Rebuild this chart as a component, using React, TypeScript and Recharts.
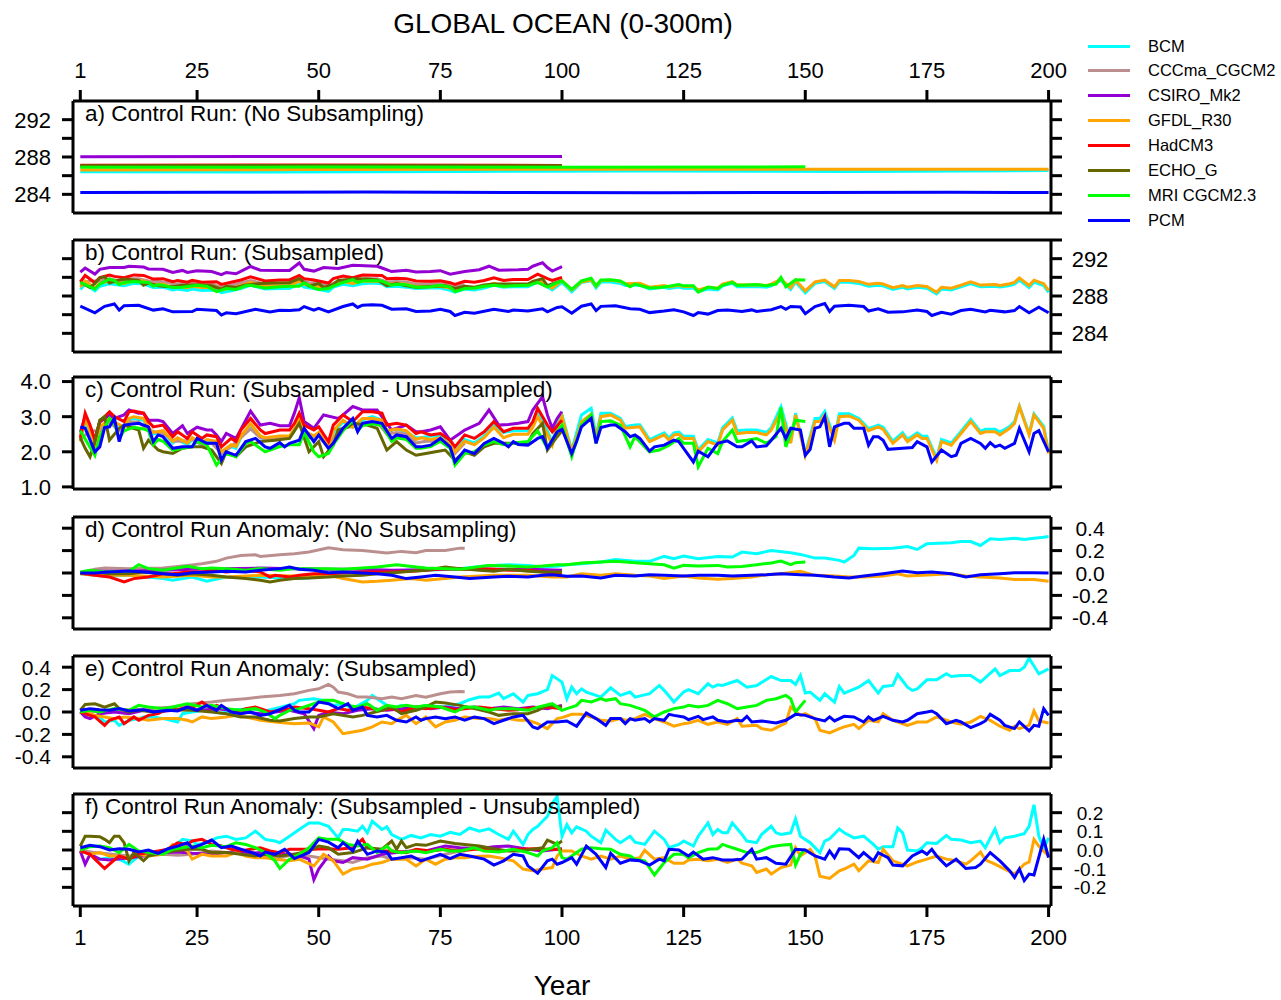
import React from 'react';
import { LineChart, Line, XAxis, YAxis } from 'recharts';

type Pt = [number, number];

const models = ['BCM', 'CCCma_CGCM2', 'CSIRO_Mk2', 'GFDL_R30', 'HadCM3', 'ECHO_G', 'MRI CGCM2.3', 'PCM'];
const colors = ['#00FFFF', '#BC8F8F', '#9400D3', '#FFA500', '#FF0000', '#666600', '#00FF00', '#0000FF'];
const yearTicks = [1, 25, 50, 75, 100, 125, 150, 175, 200];

// a) control run, no subsampling
const aBCM: Pt[] = [[1, 286.42], [40, 286.4], [80, 286.45], [120, 286.5], [160, 286.45], [200, 286.55]];
const aCCCma: Pt[] = [[1, 287.0], [40, 287.0], [80, 287.0]];
const aCSIRO: Pt[] = [[1, 288.02], [50, 288.05], [100, 288.05]];
const aGFDL: Pt[] = [[1, 286.62], [50, 286.65], [100, 286.7], [150, 286.7], [200, 286.7]];
const aHad: Pt[] = [[1, 287.12], [50, 287.15], [100, 287.1]];
const aECHO: Pt[] = [[1, 287.05], [50, 287.1], [100, 287.05]];
const aMRI: Pt[] = [[1, 286.9], [50, 286.92], [100, 286.9], [150, 286.95]];
const aPCM: Pt[] = [[1, 284.2], [30, 284.22], [60, 284.25], [90, 284.2], [120, 284.18], [150, 284.2], [180, 284.22], [200, 284.2]];

// b) control run, subsampled
const bBCM: Pt[] = [[1,288.7],[2,289.25],[4,288.55],[5,289.05],[7,289.3],[10,289.1],[12,289.35],[14,289.3],[16,288.9],[18,288.95],[20,288.65],[21,288.75],[23,288.6],[24,288.75],[26,288.6],[29,288.65],[30,288.35],[32,288.55],[34,288.8],[36,289.15],[39,288.75],[42,288.8],[44,288.8],[46,289.3],[47,288.95],[49,288.8],[52,288.5],[53,288.95],[55,289.25],[57,289.1],[59,289.3],[61,289.4],[63,289.3],[64,289.0],[66,289.05],[68,288.95],[70,288.8],[73,288.85],[75,288.85],[77,288.6],[78,288.4],[80,288.75],[82,288.65],[84,288.85],[86,289.15],[88,288.95],[90,289.0],[93,289.0],[95,289.5],[97,289.0],[98,288.65],[100,289.45],[102,288.45],[104,289.45],[106,289.64],[107,288.85],[108,289.5],[110,289.5],[112,289.35],[113,289.12],[116,289.17],[118,288.75],[121,288.94],[122,288.8],[124,288.96],[125,288.84],[127,288.84],[128,288.46],[130,288.75],[132,288.65],[133,289.08],[135,289.36],[136,289.0],[140,289.02],[142,288.95],[143,289.08],[145,289.68],[147,288.7],[148,289.5],[150,288.35],[152,289.35],[154,289.55],[156,288.8],[157,289.48],[159,289.48],[161,289.35],[163,289.06],[165,289.16],[166,289.1],[168,288.7],[170,288.94],[171,288.75],[173,288.94],[175,288.84],[177,288.22],[178,288.75],[180,288.65],[182,288.98],[184,289.32],[186,288.98],[189,289.04],[190,288.96],[192,289.12],[193,289.26],[194,289.7],[196,288.92],[197,289.48],[199,289.12],[200,288.4]];
const bCCCma: Pt[] = [[1,289.35],[3,289.6],[5,289.6],[7,289.85],[9,289.6],[11,289.85],[13,289.85],[15,289.6],[17,289.55],[19,289.45],[20,289.3],[22,289.3],[24,289.35],[26,289.2],[28,289.25],[30,288.95],[32,289.15],[34,289.4],[36,289.65],[38,289.4],[40,289.35],[42,289.4],[44,289.4],[46,289.85],[48,289.4],[50,289.45],[52,289.1],[54,289.6],[56,289.7],[58,289.75],[60,289.85],[62,289.85],[64,289.5],[66,289.55],[68,289.5],[70,289.25],[72,289.3],[74,289.3],[76,289.3],[78,288.95],[80,289.25]];
const bCSIRO: Pt[] = [[1,290.55],[2,291.0],[4,290.35],[5,290.85],[7,291.05],[10,291.05],[11,291.19],[14,291.1],[15,290.9],[18,290.86],[20,290.52],[22,290.74],[23,290.52],[25,290.7],[28,290.62],[30,290.29],[31,290.52],[33,290.38],[35,290.9],[36,291.16],[38,290.76],[42,290.74],[44,290.74],[46,291.54],[47,290.86],[49,290.67],[51,291.05],[54,290.95],[57,291.29],[62,291.19],[63,291.0],[65,290.62],[68,290.76],[70,290.57],[73,290.62],[75,290.71],[77,290.33],[80,290.62],[83,290.81],[85,291.19],[87,290.76],[91,290.81],[93,290.86],[94,291.19],[96,291.57],[97,291.05],[98,290.67],[100,291.14]];
const bGFDL: Pt[] = [[1,288.95],[2,289.6],[4,288.85],[5,289.35],[7,289.6],[10,289.35],[12,289.65],[14,289.6],[16,289.2],[18,289.25],[20,288.95],[21,289.05],[23,288.9],[24,289.05],[26,288.9],[29,288.95],[30,288.65],[32,288.85],[34,289.1],[36,289.45],[39,289.05],[42,289.1],[44,289.1],[46,289.6],[47,289.25],[49,289.1],[52,288.8],[53,289.25],[55,289.55],[57,289.35],[59,289.6],[63,289.55],[64,289.25],[66,289.3],[68,289.25],[70,289.0],[73,289.0],[75,289.05],[77,288.85],[78,288.65],[80,288.95],[82,288.85],[84,289.05],[86,289.35],[88,289.05],[90,289.15],[93,289.15],[95,289.65],[97,289.15],[98,288.84],[100,289.65],[102,288.65],[104,289.51],[106,289.72],[107,289.03],[108,289.65],[110,289.7],[112,289.55],[113,289.32],[116,289.36],[118,288.94],[121,289.13],[122,288.98],[124,289.15],[125,289.03],[127,289.03],[128,288.65],[130,288.94],[132,288.84],[133,289.27],[135,289.55],[136,289.17],[140,289.2],[142,289.13],[143,289.27],[145,289.79],[147,288.89],[148,289.7],[150,288.55],[152,289.51],[154,289.7],[156,288.98],[157,289.65],[159,289.67],[161,289.55],[163,289.25],[165,289.36],[166,289.29],[168,288.89],[170,289.13],[171,288.94],[173,289.13],[175,289.03],[177,288.41],[178,288.94],[180,288.84],[182,289.17],[184,289.51],[186,289.17],[189,289.22],[190,289.13],[192,289.32],[193,289.46],[194,289.94],[196,289.13],[197,289.7],[199,289.32],[200,288.6]];
const bHad: Pt[] = [[1,289.5],[2,290.2],[4,289.43],[5,289.96],[7,290.24],[8,290.1],[10,289.96],[12,290.26],[14,290.2],[16,289.81],[18,289.86],[20,289.53],[21,289.67],[23,289.48],[24,289.67],[26,289.48],[29,289.53],[30,289.24],[32,289.48],[34,289.72],[36,290.05],[39,289.62],[42,289.72],[44,289.72],[46,290.2],[47,289.86],[49,289.72],[52,289.39],[53,289.86],[55,290.15],[57,289.96],[59,290.24],[63,290.2],[64,289.86],[66,289.91],[68,289.86],[70,289.62],[73,289.58],[75,289.62],[77,289.43],[78,289.24],[80,289.58],[82,289.48],[84,289.67],[86,289.96],[88,289.67],[90,289.77],[93,289.77],[95,290.34],[97,289.86],[98,289.67],[100,290.0]];
const bECHO: Pt[] = [[1,289.45],[3,288.91],[4,289.34],[5,289.95],[6,290.05],[7,289.38],[9,289.72],[10,289.81],[13,289.67],[14,289.15],[15,289.38],[17,289.1],[18,289.05],[20,289.0],[22,289.15],[24,289.19],[26,289.19],[28,289.1],[30,288.72],[31,289.05],[33,288.91],[35,289.19],[37,289.29],[38,289.34],[41,289.38],[44,289.43],[46,289.86],[48,289.05],[50,289.34],[51,288.91],[53,289.24],[54,289.67],[56,289.76],[57,289.86],[60,289.81],[62,289.72],[64,289.1],[66,289.34],[68,289.1],[70,288.95],[72,289.0],[74,289.05],[76,289.1],[78,288.81],[80,289.05],[82,288.95],[84,289.19],[86,289.29],[89,289.29],[93,289.29],[94,289.57],[96,289.86],[97,289.1],[99,289.48],[100,289.65]];
const bMRI: Pt[] = [[1,289.45],[4,288.75],[5,289.28],[7,289.8],[8,289.66],[9,289.23],[10,289.45],[12,289.55],[15,289.45],[16,289.05],[17,289.2],[18,289.15],[20,288.9],[22,288.95],[25,289.15],[27,289.05],[29,288.47],[31,288.8],[33,288.71],[35,289.09],[36,289.14],[39,288.85],[42,289.0],[44,289.05],[46,289.05],[47,289.4],[49,288.85],[50,288.71],[52,288.8],[53,289.05],[55,289.45],[57,289.75],[58,289.45],[59,289.6],[61,289.65],[63,289.6],[65,289.15],[66,289.25],[68,289.2],[70,288.95],[73,289.0],[75,289.15],[77,288.95],[78,288.47],[80,288.8],[82,288.85],[84,289.05],[86,289.14],[88,289.05],[90,289.1],[93,289.14],[95,289.45],[97,288.95],[99,289.42],[100,289.61],[102,288.71],[104,289.61],[106,289.9],[107,289.09],[108,289.71],[110,289.73],[112,289.61],[114,288.99],[115,289.28],[118,288.85],[120,288.9],[122,289.04],[124,289.23],[125,289.09],[127,289.09],[128,288.42],[130,288.95],[132,288.8],[133,289.14],[135,289.47],[136,289.14],[138,289.18],[140,289.23],[142,289.09],[144,289.28],[145,290.0],[146,288.99],[148,289.75],[150,289.71]];
const bPCM: Pt[] = [[1,286.91],[4,286.2],[6,286.89],[8,287.15],[9,286.49],[10,286.96],[13,287.01],[16,286.49],[18,286.63],[20,286.3],[24,286.34],[25,286.58],[29,286.44],[30,285.96],[31,286.2],[33,286.1],[37,286.58],[40,286.3],[42,286.46],[44,286.44],[46,286.53],[47,286.87],[49,286.49],[50,286.68],[52,286.3],[55,286.87],[57,287.15],[58,286.77],[59,287.01],[61,287.06],[63,287.01],[65,286.58],[68,286.63],[70,286.34],[73,286.39],[75,286.58],[77,286.34],[78,285.91],[80,286.25],[82,286.15],[86,286.58],[89,286.34],[90,286.49],[93,286.39],[96,286.63],[97,286.3],[99,286.77],[100,286.84],[102,286.15],[104,286.91],[106,287.15],[107,286.44],[108,286.89],[111,286.96],[114,286.63],[116,286.58],[118,286.22],[121,286.39],[123,286.53],[125,286.3],[127,285.91],[128,286.22],[130,286.06],[132,286.44],[134,286.51],[137,286.34],[139,286.51],[140,286.34],[143,286.53],[145,286.87],[146,286.58],[147,286.87],[149,286.82],[150,286.1],[152,286.87],[154,287.2],[155,286.34],[156,286.91],[159,287.01],[162,286.87],[163,286.39],[165,286.63],[167,286.27],[170,286.3],[173,286.49],[175,286.34],[176,285.91],[178,286.25],[180,286.06],[182,286.44],[184,286.58],[187,286.3],[188,286.46],[191,286.3],[193,286.44],[194,286.87],[196,286.2],[198,286.8],[200,286.2]];

// c) subsampled - unsubsampled
const cBCM: Pt[] = [[1,2.3],[2,2.85],[3,2.55],[4,2.15],[5,2.65],[7,2.9],[8,2.8],[10,2.7],[11,2.9],[12,2.95],[14,2.9],[15,2.65],[16,2.5],[18,2.55],[20,2.25],[21,2.35],[23,2.2],[24,2.35],[26,2.2],[27,2.3],[29,2.25],[30,1.95],[32,2.15],[33,2.1],[34,2.4],[36,2.75],[38,2.4],[39,2.35],[42,2.4],[44,2.4],[45,2.6],[46,2.9],[47,2.55],[49,2.4],[50,2.5],[52,2.1],[53,2.55],[55,2.85],[57,2.7],[59,2.9],[61,3.0],[63,2.9],[64,2.6],[66,2.65],[68,2.55],[70,2.4],[71,2.4],[73,2.45],[75,2.45],[77,2.2],[78,2.0],[80,2.35],[82,2.25],[84,2.45],[86,2.75],[88,2.55],[90,2.6],[93,2.6],[94,2.8],[95,3.1],[97,2.6],[98,2.25],[99,2.78],[100,3.05],[102,2.05],[104,3.05],[106,3.24],[107,2.45],[108,3.1],[110,3.1],[112,2.95],[113,2.72],[115,2.76],[116,2.77],[118,2.35],[121,2.54],[122,2.4],[123,2.54],[124,2.56],[125,2.44],[127,2.44],[128,2.06],[130,2.35],[132,2.25],[133,2.68],[135,2.96],[136,2.6],[138,2.62],[140,2.62],[142,2.55],[143,2.68],[145,3.28],[147,2.3],[148,3.1],[150,1.95],[152,2.95],[153,2.95],[154,3.15],[156,2.4],[157,3.08],[159,3.08],[161,2.95],[163,2.66],[165,2.76],[166,2.7],[168,2.3],[170,2.54],[171,2.35],[173,2.54],[174,2.44],[175,2.44],[177,1.82],[178,2.35],[180,2.25],[182,2.58],[184,2.92],[186,2.58],[187,2.64],[189,2.64],[190,2.56],[192,2.72],[193,2.86],[194,3.3],[196,2.52],[197,3.08],[199,2.72],[200,2.0]];
const cCCCma: Pt[] = [[1,2.35],[3,2.6],[5,2.6],[7,2.85],[9,2.6],[11,2.85],[13,2.85],[15,2.6],[17,2.55],[19,2.45],[20,2.3],[22,2.3],[24,2.35],[26,2.2],[28,2.25],[30,1.95],[32,2.15],[34,2.4],[36,2.65],[38,2.4],[40,2.35],[42,2.4],[44,2.4],[46,2.85],[48,2.4],[50,2.45],[52,2.1],[54,2.6],[56,2.7],[58,2.75],[60,2.85],[62,2.85],[64,2.5],[66,2.55],[68,2.5],[70,2.25],[72,2.3],[74,2.3],[76,2.3],[78,1.95],[80,2.25]];
const cCSIRO: Pt[] = [[1,2.55],[2,3.0],[3,2.7],[4,2.35],[5,2.85],[7,3.05],[8,2.95],[10,3.05],[11,3.19],[13,3.1],[14,3.1],[15,2.9],[17,2.9],[18,2.86],[20,2.52],[22,2.74],[23,2.52],[25,2.7],[27,2.62],[28,2.62],[29,2.48],[30,2.29],[31,2.52],[33,2.38],[35,2.9],[36,3.16],[38,2.76],[40,2.81],[42,2.74],[44,2.74],[45,3.1],[46,3.54],[47,2.86],[49,2.67],[51,3.05],[54,2.95],[55,3.05],[57,3.29],[59,3.19],[61,3.19],[62,3.19],[63,3.0],[65,2.62],[66,2.67],[68,2.76],[70,2.57],[71,2.57],[73,2.62],[75,2.71],[77,2.33],[79,2.52],[80,2.62],[83,2.81],[85,3.19],[87,2.76],[89,2.78],[91,2.81],[93,2.86],[94,3.19],[96,3.57],[97,3.05],[98,2.67],[99,2.95],[100,3.14]];
const cGFDL: Pt[] = [[1,2.3],[2,2.95],[3,2.6],[4,2.2],[5,2.7],[7,2.95],[8,2.85],[10,2.7],[11,2.95],[12,3.0],[14,2.95],[15,2.7],[16,2.55],[18,2.6],[20,2.3],[21,2.4],[23,2.25],[24,2.4],[26,2.25],[27,2.35],[29,2.3],[30,2.0],[32,2.2],[33,2.15],[34,2.45],[36,2.8],[38,2.45],[39,2.4],[42,2.45],[44,2.45],[45,2.65],[46,2.95],[47,2.6],[49,2.45],[50,2.55],[52,2.15],[53,2.6],[55,2.9],[57,2.7],[59,2.95],[61,2.95],[63,2.9],[64,2.6],[66,2.65],[68,2.6],[70,2.35],[71,2.4],[73,2.35],[75,2.4],[77,2.2],[78,2.0],[80,2.3],[82,2.2],[84,2.4],[86,2.7],[88,2.4],[90,2.5],[93,2.5],[94,2.7],[95,3.0],[97,2.5],[98,2.19],[99,2.71],[100,3.0],[102,2.0],[104,2.86],[106,3.07],[107,2.38],[108,3.0],[110,3.05],[112,2.9],[113,2.67],[115,2.7],[116,2.71],[118,2.29],[121,2.48],[122,2.33],[123,2.48],[124,2.5],[125,2.38],[127,2.38],[128,2.0],[130,2.29],[132,2.19],[133,2.62],[135,2.9],[136,2.52],[138,2.55],[140,2.55],[142,2.48],[143,2.62],[145,3.14],[147,2.24],[148,3.05],[150,1.9],[152,2.86],[153,2.86],[154,3.05],[156,2.33],[157,3.0],[159,3.02],[161,2.9],[163,2.6],[165,2.71],[166,2.64],[168,2.24],[170,2.48],[171,2.29],[173,2.48],[174,2.38],[175,2.38],[177,1.76],[178,2.29],[180,2.19],[182,2.52],[184,2.86],[186,2.52],[187,2.57],[189,2.57],[190,2.48],[192,2.67],[193,2.81],[194,3.29],[196,2.48],[197,3.05],[199,2.67],[200,1.95]];
const cHad: Pt[] = [[1,2.4],[2,3.1],[3,2.76],[4,2.33],[5,2.86],[7,3.14],[8,3.0],[10,2.86],[11,3.14],[12,3.16],[14,3.1],[15,2.86],[16,2.71],[18,2.76],[20,2.43],[21,2.57],[23,2.38],[24,2.57],[26,2.38],[27,2.48],[29,2.43],[30,2.14],[32,2.38],[33,2.29],[34,2.62],[36,2.95],[38,2.62],[39,2.52],[42,2.62],[44,2.62],[45,2.81],[46,3.1],[47,2.76],[49,2.62],[50,2.71],[52,2.29],[53,2.76],[55,3.05],[57,2.86],[59,3.14],[61,3.14],[63,3.1],[64,2.76],[66,2.81],[68,2.76],[70,2.52],[71,2.57],[73,2.48],[75,2.52],[77,2.33],[78,2.14],[80,2.48],[82,2.38],[84,2.57],[86,2.86],[88,2.57],[90,2.67],[93,2.67],[94,2.86],[95,3.24],[97,2.76],[98,2.57],[100,2.9]];
const cECHO: Pt[] = [[1,2.4],[2,2.1],[3,1.86],[4,2.29],[5,2.9],[6,3.0],[7,2.33],[9,2.67],[10,2.76],[13,2.62],[14,2.1],[15,2.33],[17,2.05],[18,2.0],[20,1.95],[22,2.1],[24,2.14],[26,2.14],[28,2.05],[30,1.67],[31,2.0],[33,1.86],[35,2.14],[37,2.24],[38,2.29],[41,2.33],[44,2.38],[46,2.81],[48,2.0],[50,2.29],[51,1.86],[53,2.19],[54,2.62],[56,2.71],[57,2.81],[60,2.76],[62,2.67],[64,2.05],[66,2.29],[68,2.05],[70,1.9],[72,1.95],[74,2.0],[76,2.05],[78,1.76],[80,2.0],[82,1.9],[84,2.14],[86,2.24],[89,2.24],[93,2.24],[94,2.52],[96,2.81],[97,2.05],[99,2.43],[100,2.6]];
const cMRI: Pt[] = [[1,2.6],[4,1.9],[5,2.43],[7,2.95],[8,2.81],[9,2.38],[10,2.6],[12,2.7],[14,2.65],[15,2.6],[16,2.2],[17,2.35],[18,2.3],[20,2.05],[22,2.1],[24,2.15],[25,2.3],[27,2.2],[29,1.62],[31,1.95],[33,1.86],[35,2.24],[36,2.29],[39,2.0],[40,2.05],[42,2.15],[44,2.2],[46,2.2],[47,2.55],[49,2.0],[50,1.86],[52,1.95],[53,2.2],[55,2.6],[57,2.9],[58,2.6],[59,2.75],[61,2.8],[63,2.75],[65,2.3],[66,2.4],[68,2.35],[70,2.1],[71,2.1],[73,2.15],[75,2.3],[77,2.1],[78,1.62],[80,1.95],[82,2.0],[84,2.2],[86,2.29],[88,2.2],[90,2.25],[93,2.29],[95,2.6],[97,2.1],[99,2.57],[100,2.76],[102,1.86],[104,2.76],[106,3.05],[107,2.24],[108,2.86],[110,2.88],[112,2.76],[114,2.14],[115,2.43],[118,2.0],[120,2.05],[122,2.19],[124,2.38],[125,2.24],[127,2.24],[128,1.57],[130,2.1],[132,1.95],[133,2.29],[135,2.62],[136,2.29],[138,2.33],[140,2.38],[142,2.24],[144,2.43],[145,3.26],[146,2.14],[148,2.9],[150,2.86]];
const cPCM: Pt[] = [[1,2.71],[2,2.67],[4,2.0],[5,2.14],[6,2.69],[7,2.71],[8,2.95],[9,2.29],[10,2.76],[13,2.81],[15,2.71],[16,2.29],[17,2.48],[18,2.43],[20,2.1],[22,2.14],[24,2.14],[25,2.38],[27,2.24],[29,2.24],[30,1.76],[31,2.0],[33,1.9],[35,2.29],[37,2.38],[39,2.14],[40,2.1],[42,2.26],[43,2.14],[44,2.24],[46,2.33],[47,2.67],[49,2.29],[50,2.48],[52,2.1],[53,2.24],[55,2.67],[57,2.95],[58,2.57],[59,2.81],[61,2.86],[63,2.81],[65,2.38],[66,2.48],[68,2.43],[70,2.14],[71,2.14],[73,2.19],[75,2.38],[77,2.14],[78,1.71],[80,2.05],[82,1.95],[84,2.24],[86,2.38],[88,2.24],[89,2.14],[90,2.29],[91,2.21],[93,2.19],[95,2.38],[96,2.43],[97,2.1],[99,2.57],[100,2.64],[102,1.95],[103,2.29],[104,2.71],[106,2.95],[107,2.24],[108,2.69],[110,2.76],[111,2.76],[113,2.57],[114,2.43],[115,2.48],[116,2.38],[118,2.02],[119,2.14],[121,2.19],[123,2.33],[124,2.29],[125,2.1],[127,1.71],[128,2.02],[130,1.86],[132,2.24],[134,2.31],[136,2.14],[137,2.14],[139,2.31],[140,2.14],[142,2.17],[143,2.33],[145,2.67],[146,2.38],[147,2.67],[149,2.62],[150,1.9],[151,2.07],[152,2.67],[153,2.71],[154,3.0],[155,2.14],[156,2.71],[158,2.81],[159,2.81],[160,2.67],[162,2.67],[163,2.19],[164,2.43],[165,2.43],[166,2.33],[167,2.07],[170,2.1],[172,2.12],[173,2.29],[175,2.14],[176,1.71],[178,2.05],[180,1.86],[181,1.9],[182,2.24],[184,2.38],[186,2.24],[187,2.1],[188,2.26],[189,2.14],[190,2.19],[191,2.1],[193,2.24],[194,2.67],[196,2.0],[197,2.52],[198,2.6],[200,2.0]];

// d) anomaly, no subsampling
const dBCM: Pt[] = [[1,-0.006],[4,-0.021],[6,-0.03],[11,-0.021],[18,-0.05],[20,-0.065],[24,-0.036],[27,-0.074],[31,-0.036],[38,-0.036],[45,-0.05],[48,-0.044],[52,-0.006],[59,0.009],[65,-0.006],[68,0.024],[72,0.024],[79,0.039],[84,0.062],[89,0.074],[93,0.068],[96,0.053],[99,0.06],[101,0.074],[104,0.083],[108,0.098],[111,0.121],[115,0.104],[118,0.104],[121,0.148],[123,0.127],[125,0.151],[128,0.127],[132,0.148],[135,0.142],[137,0.187],[140,0.172],[143,0.201],[147,0.181],[149,0.166],[152,0.133],[154,0.133],[157,0.113],[158,0.098],[160,0.157],[161,0.222],[164,0.216],[168,0.222],[171,0.237],[173,0.21],[175,0.261],[180,0.27],[182,0.281],[184,0.281],[186,0.246],[188,0.305],[190,0.299],[193,0.311],[195,0.299],[197,0.311],[199,0.32],[200,0.326]];
const dCCCma: Pt[] = [[1,0],[4,0.033],[6,0.044],[11,0.039],[18,0.044],[23,0.068],[26,0.083],[29,0.104],[31,0.133],[34,0.157],[37,0.163],[38,0.148],[42,0.163],[45,0.172],[48,0.187],[52,0.225],[55,0.207],[59,0.201],[62,0.187],[64,0.178],[67,0.193],[70,0.181],[72,0.201],[76,0.201],[79,0.222],[80,0.22]];
const dCSIRO: Pt[] = [[1,0],[4,0.015],[11,0.015],[18,0.024],[24,0.033],[31,0.039],[38,0.044],[45,0.039],[52,0.033],[59,0.033],[65,0.024],[72,0.03],[79,0.039],[86,0.033],[93,0.033],[100,0.024]];
const dGFDL: Pt[] = [[1,-0.006],[4,-0.021],[11,-0.021],[18,-0.036],[24,-0.021],[28,-0.036],[31,-0.036],[38,-0.021],[45,-0.027],[52,-0.021],[55,-0.05],[59,-0.08],[62,-0.074],[65,-0.065],[69,-0.05],[72,-0.065],[76,-0.05],[79,-0.036],[86,-0.021],[93,-0.021],[98,-0.036],[101,-0.036],[104,-0.006],[108,-0.021],[111,-0.006],[115,-0.021],[118,-0.027],[121,-0.05],[125,-0.027],[128,-0.044],[132,-0.056],[135,-0.05],[139,-0.036],[142,-0.015],[145,-0.006],[149,0.015],[152,-0.021],[156,-0.027],[159,-0.036],[162,-0.036],[166,-0.027],[169,-0.006],[171,-0.027],[176,-0.015],[180,-0.006],[183,-0.027],[186,-0.036],[190,-0.044],[193,-0.059],[197,-0.059],[200,-0.074]];
const dHad: Pt[] = [[1,0],[4,-0.021],[7,-0.036],[10,-0.08],[12,-0.05],[15,-0.036],[18,-0.006],[20,-0.006],[23,0.009],[26,0.009],[28,0.024],[31,0.009],[35,0.024],[38,0.009],[40,-0.036],[41,-0.021],[44,-0.036],[46,-0.021],[49,-0.006],[52,-0.006],[56,0.003],[59,0.009],[63,0.009],[65,0.009],[69,0.015],[72,0.024],[76,0.039],[79,0.033],[83,0.039],[86,0.033],[89,0.024],[93,0.024],[96,0.009],[100,-0.006]];
const dECHO: Pt[] = [[1,0],[4,0.009],[7,-0.006],[11,-0.006],[14,0.009],[18,-0.006],[21,-0.021],[24,-0.006],[28,-0.021],[31,-0.036],[35,-0.05],[38,-0.065],[40,-0.08],[42,-0.065],[45,-0.05],[48,-0.044],[52,-0.036],[55,-0.027],[59,-0.021],[62,-0.006],[65,0.003],[69,0.015],[72,0.024],[76,0.053],[79,0.039],[83,0.024],[86,0.015],[89,0.033],[93,0.015],[96,0.009],[100,0.009]];
const dMRI: Pt[] = [[1,0.009],[3,0.024],[6,0.009],[11,0.015],[13,0.074],[15,0.039],[18,0.024],[23,0.059],[26,0.039],[28,0.044],[31,0.039],[35,0.024],[38,0.039],[42,0.024],[45,0.039],[52,0.039],[55,0.033],[59,0.044],[62,0.053],[66,0.074],[70,0.053],[72,0.044],[76,0.039],[79,0.033],[85,0.068],[89,0.062],[93,0.053],[96,0.062],[99,0.074],[101,0.074],[104,0.089],[108,0.098],[111,0.104],[115,0.092],[118,0.083],[121,0.074],[123,0.044],[125,0.068],[128,0.062],[132,0.068],[134,0.053],[137,0.059],[140,0.074],[143,0.089],[145,0.107],[147,0.074],[148,0.092],[150,0.098]];
const dPCM: Pt[] = [[1,0],[4,0],[7,0.009],[11,0.018],[14,0.009],[18,-0.006],[21,-0.015],[24,0.003],[28,0.009],[31,0.015],[35,0.009],[38,0.024],[42,0.039],[44,0.053],[46,0.033],[49,0.024],[52,0.003],[55,0.009],[59,0],[62,-0.006],[65,-0.021],[68,-0.05],[71,-0.036],[74,-0.021],[78,-0.036],[81,-0.05],[86,-0.036],[89,-0.03],[93,-0.036],[96,-0.021],[98,-0.015],[101,-0.03],[104,-0.027],[108,-0.044],[111,-0.021],[115,-0.027],[118,-0.015],[121,-0.021],[125,-0.027],[128,-0.021],[132,-0.021],[135,-0.027],[139,-0.021],[142,-0.015],[145,-0.006],[149,-0.015],[152,-0.021],[156,-0.036],[159,-0.044],[162,-0.027],[166,-0.006],[170,0.018],[173,0.003],[176,0.009],[180,-0.006],[183,-0.036],[186,-0.015],[190,-0.006],[193,0.003],[197,0.003],[200,0]];

// e) anomaly, subsampled
const eBCM: Pt[] = [[1,0],[3,-0.03],[5,-0.044],[6,-0.089],[8,-0.074],[9,-0.119],[11,-0.074],[13,-0.059],[14,-0.044],[16,-0.044],[18,-0.059],[19,-0.068],[21,-0.089],[22,-0.015],[24,0.0],[27,0.02],[30,-0.01],[33,0.02],[36,0.03],[39,0.01],[42,0.04],[45,0.074],[46,0.104],[49,0.119],[51,0.104],[53,0.059],[55,0.074],[57,0.03],[60,0.104],[61,0.148],[63,0.089],[65,0.03],[67,0.059],[69,0.03],[72,0.059],[76,0.044],[79,0.074],[81,0.11],[83,0.133],[85,0.133],[87,0.169],[88,0.119],[90,0.163],[92,0.089],[93,0.148],[95,0.163],[97,0.199],[98,0.326],[100,0.267],[101,0.119],[102,0.222],[103,0.163],[104,0.207],[105,0.178],[107,0.148],[108,0.133],[110,0.216],[112,0.148],[114,0.178],[115,0.133],[118,0.163],[120,0.237],[121,0.193],[123,0.089],[125,0.178],[126,0.199],[128,0.163],[130,0.252],[131,0.222],[132,0.243],[133,0.237],[136,0.281],[138,0.222],[140,0.237],[143,0.317],[145,0.281],[147,0.281],[148,0.246],[149,0.326],[150,0.169],[151,0.178],[153,0.104],[154,0.163],[156,0.089],[157,0.228],[158,0.169],[161,0.222],[163,0.281],[165,0.169],[166,0.228],[168,0.237],[169,0.335],[171,0.222],[172,0.193],[173,0.207],[175,0.287],[177,0.287],[179,0.341],[180,0.317],[182,0.326],[184,0.326],[186,0.267],[189,0.385],[190,0.326],[192,0.37],[194,0.37],[195,0.4],[196,0.48],[198,0.341],[200,0.385]];
const eCCCma: Pt[] = [[1,0.015],[5,0.0],[10,0.015],[15,0.03],[20,0.044],[24,0.074],[28,0.089],[31,0.104],[35,0.119],[38,0.133],[42,0.148],[45,0.163],[48,0.193],[50,0.207],[52,0.246],[53,0.222],[54,0.178],[56,0.163],[58,0.133],[60,0.133],[63,0.119],[65,0.133],[67,0.119],[70,0.148],[72,0.133],[75,0.163],[77,0.178],[79,0.184],[80,0.18]];
const eCSIRO: Pt[] = [[1,0],[2,-0.044],[3,-0.059],[5,-0.015],[8,0],[11,-0.015],[14,0.015],[17,0.0],[20,0.015],[23,0.03],[26,0.015],[29,0.03],[32,0.015],[35,0.0],[38,-0.015],[41,0.0],[44,0.015],[47,-0.015],[49,-0.148],[50,-0.03],[52,0.0],[55,-0.015],[58,0.015],[61,0.03],[64,0.015],[67,0.03],[70,0.044],[73,0.03],[76,0.044],[79,0.03],[82,0.044],[85,0.03],[88,0.044],[91,0.03],[94,0.044],[97,0.03],[100,0.059]];
const eGFDL: Pt[] = [[1,0],[3,-0.015],[4,-0.03],[6,-0.044],[8,-0.059],[10,-0.044],[13,-0.059],[15,-0.074],[18,-0.059],[21,-0.059],[23,-0.074],[24,-0.089],[26,-0.044],[28,-0.059],[31,-0.044],[33,-0.03],[35,-0.044],[38,-0.074],[41,-0.089],[45,-0.104],[48,-0.098],[50,-0.133],[51,-0.044],[53,-0.089],[55,-0.193],[57,-0.178],[59,-0.163],[61,-0.133],[63,-0.089],[65,-0.104],[66,-0.074],[68,-0.03],[70,-0.104],[72,-0.044],[74,-0.133],[76,-0.089],[78,-0.074],[80,-0.044],[83,-0.059],[85,-0.059],[87,-0.074],[89,-0.059],[91,-0.074],[93,-0.074],[95,-0.104],[97,-0.148],[99,-0.059],[100,-0.05],[102,-0.021],[104,-0.021],[106,-0.044],[108,-0.074],[110,-0.08],[112,-0.059],[113,-0.074],[115,-0.059],[117,-0.021],[119,-0.059],[121,-0.089],[123,-0.127],[125,-0.104],[126,-0.098],[128,-0.074],[130,-0.11],[132,-0.089],[134,-0.11],[136,-0.059],[137,-0.127],[140,-0.119],[141,-0.148],[143,-0.163],[145,-0.119],[146,-0.098],[147,0.044],[149,-0.03],[150,-0.015],[152,-0.059],[153,-0.163],[155,-0.187],[157,-0.148],[158,-0.133],[160,-0.11],[161,-0.148],[163,-0.074],[165,-0.089],[166,-0.015],[168,-0.074],[171,-0.119],[173,-0.089],[175,-0.089],[177,-0.044],[179,-0.074],[180,-0.089],[182,-0.11],[184,-0.089],[186,-0.039],[188,-0.074],[190,-0.127],[192,-0.163],[193,-0.127],[194,-0.148],[196,-0.119],[197,0.009],[198,-0.08],[200,-0.098]];
const eHad: Pt[] = [[1,0],[3,-0.03],[4,-0.044],[6,-0.119],[7,-0.074],[9,-0.044],[10,-0.104],[12,-0.044],[13,-0.074],[15,-0.03],[17,-0.015],[19,0.03],[21,0.021],[23,0.044],[24,0.039],[26,0.089],[28,0.03],[29,0.059],[31,0.03],[33,0],[35,0.03],[37,0.044],[40,0],[42,0.015],[44,0.03],[45,0.044],[48,0.03],[50,0.015],[52,0],[54,0.03],[56,0.015],[59,0.044],[61,0.03],[63,0.015],[65,0.03],[67,0],[70,0.044],[72,0.03],[75,0.044],[78,0.021],[80,0.03],[83,0.044],[86,0.03],[89,0.015],[91,0.021],[94,0.039],[97,0.044],[100,0.03]];
const eECHO: Pt[] = [[1,0.015],[2,0.068],[4,0.074],[6,0.044],[8,0.074],[9,0.03],[11,0],[13,0.015],[16,0],[20,0.021],[24,0.015],[28,0],[31,-0.015],[34,-0.044],[37,-0.044],[40,-0.074],[42,-0.08],[45,-0.059],[48,-0.044],[50,-0.044],[53,-0.015],[57,-0.044],[59,-0.03],[63,0.015],[65,0.044],[67,-0.015],[70,0.015],[72,0.044],[74,0.089],[76,0.08],[79,0.059],[82,0.03],[85,0],[87,-0.03],[90,-0.015],[93,-0.015],[95,0.015],[97,0.059],[100,0.044]];
const eMRI: Pt[] = [[1,0],[3,0.015],[5,0],[8,0.03],[11,0.015],[13,0.059],[15,0.044],[18,0.03],[20,0.044],[23,0.074],[26,0.044],[28,0.059],[31,0.03],[34,0.015],[37,0.03],[39,0],[41,-0.059],[42,-0.03],[44,0.015],[46,0.03],[49,0.074],[51,0.104],[53,0.104],[56,0.059],[58,0.044],[60,0.074],[62,0.015],[64,0.059],[66,0.044],[68,0.059],[70,0.044],[72,0.059],[75,0.044],[78,0],[80,0.044],[82,0.044],[85,0.015],[87,0.03],[90,0.03],[93,0.015],[95,0.044],[98,0.074],[100,0.015],[101,0.03],[102,0.044],[103,0.059],[104,0.104],[106,0.089],[108,0.119],[109,0.104],[111,0.119],[112,0.074],[114,0.059],[116,0.03],[117,0.015],[119,-0.044],[121,0],[123,0.03],[125,0.044],[126,0.059],[128,0.044],[130,0.059],[132,0.104],[134,0.074],[136,0.03],[138,0.044],[140,0.059],[142,0.104],[144,0.119],[146,0.148],[147,0.119],[148,0],[150,0.104]];
const ePCM: Pt[] = [[1,0.015],[3,0.03],[5,0.021],[7,0.015],[9,0.03],[11,0.009],[14,0.021],[16,0],[19,0.015],[21,0.009],[23,0.044],[25,0.015],[27,0.059],[29,0.015],[30,0.059],[32,0],[34,-0.015],[36,0],[38,-0.03],[40,-0.015],[42,0.021],[44,0.059],[45,0.015],[46,0],[48,0],[50,0.089],[52,0.074],[54,0.03],[56,0.074],[57,0.015],[59,0.044],[60,-0.03],[62,-0.044],[64,-0.03],[66,-0.074],[68,-0.089],[70,-0.044],[71,-0.074],[72,-0.059],[74,-0.044],[76,-0.059],[78,-0.044],[80,-0.074],[82,-0.044],[84,-0.059],[86,-0.104],[88,-0.074],[90,-0.044],[92,-0.03],[94,-0.133],[95,-0.148],[97,-0.089],[99,-0.089],[101,-0.08],[103,-0.127],[105,-0.009],[107,-0.059],[109,-0.119],[110,-0.059],[112,-0.059],[113,-0.104],[114,-0.059],[115,-0.074],[117,-0.059],[118,-0.089],[119,-0.059],[121,-0.074],[122,-0.021],[123,-0.03],[125,-0.044],[126,-0.068],[128,-0.039],[129,-0.068],[131,-0.044],[132,-0.074],[134,-0.089],[136,-0.074],[137,-0.08],[138,-0.039],[139,-0.089],[141,-0.08],[144,-0.098],[146,-0.074],[148,-0.021],[150,-0.03],[152,-0.059],[154,-0.08],[155,-0.044],[156,-0.08],[158,-0.039],[160,-0.044],[162,-0.089],[163,-0.044],[164,-0.074],[166,-0.039],[168,-0.074],[170,-0.089],[171,-0.074],[173,-0.015],[175,0],[176,0.009],[177,-0.015],[179,-0.104],[181,-0.074],[182,-0.089],[184,-0.139],[186,-0.104],[187,-0.08],[188,-0.021],[190,-0.074],[191,-0.119],[193,-0.148],[194,-0.089],[196,-0.169],[197,-0.119],[198,-0.127],[199,0.03],[200,-0.03]];

// f) anomaly, subsampled - unsubsampled
const fBCM: Pt[] = [[1,0],[3,-0.023],[4,-0.041],[5,-0.049],[7,-0.041],[9,-0.049],[11,-0.076],[13,-0.032],[15,-0.023],[17,-0.014],[20,0.012],[22,0.057],[24,0.048],[25,0.03],[27,0.039],[29,0.065],[31,0.074],[33,0.057],[35,0.065],[37,0.101],[39,0.057],[41,0.048],[42,0.039],[44,0.074],[46,0.11],[48,0.145],[49,0.145],[50,0.145],[52,0.127],[54,0.065],[55,0.11],[56,0.11],[58,0.101],[59,0.127],[60,0.092],[61,0.154],[63,0.11],[64,0.124],[65,0.083],[67,0.057],[69,0.078],[71,0.065],[73,0.083],[75,0.074],[77,0.095],[79,0.083],[81,0.118],[83,0.101],[85,0.113],[87,0.083],[89,0.057],[90,0.101],[92,0.03],[93,0.083],[94,0.11],[95,0.127],[96,0.154],[97,0.18],[98,0.251],[99,0.286],[100,0.074],[101,0.136],[102,0.092],[103,0.124],[105,0.101],[106,0.074],[108,0.039],[109,0.106],[111,0.057],[112,0.039],[114,0.074],[115,0.042],[117,0.03],[119,0.101],[121,0.057],[122,0.012],[124,0.03],[125,0.048],[127,0.021],[128,0.074],[130,0.145],[131,0.083],[132,0.11],[133,0.092],[134,0.092],[135,0.145],[137,0.083],[138,0.048],[140,0.039],[141,0.083],[143,0.127],[144,0.092],[145,0.083],[147,0.092],[148,0.166],[149,0.074],[151,0.039],[153,-0.014],[154,0.048],[155,0.06],[157,0.113],[158,0.092],[160,0.065],[162,0.074],[164,0.03],[165,0.004],[166,0.018],[168,0.018],[169,0.118],[170,0.092],[171,0],[173,-0.005],[174,0.012],[175,0.039],[177,0.035],[179,0.078],[180,0.057],[182,0.053],[184,0.039],[186,0.048],[187,0.012],[189,0.113],[190,0.039],[191,0.065],[193,0.074],[195,0.087],[196,0.127],[197,0.242],[198,0.074],[199,0.007],[200,0.065]];
const fCCCma: Pt[] = [[1,0],[4,-0.014],[11,-0.032],[18,-0.023],[21,-0.028],[24,-0.023],[28,-0.005],[31,-0.014],[35,-0.023],[38,-0.032],[42,-0.041],[45,-0.023],[48,-0.032],[52,-0.049],[55,-0.058],[57,-0.067],[60,-0.041],[63,-0.032],[65,-0.049],[69,-0.041],[72,-0.049],[76,-0.023],[79,-0.005],[80,-0.005]];
const fCSIRO: Pt[] = [[1,-0.005],[2,-0.076],[3,-0.023],[5,-0.049],[7,-0.053],[11,-0.041],[14,-0.032],[18,-0.014],[21,-0.011],[24,-0.018],[28,-0.023],[31,-0.014],[35,-0.018],[38,-0.014],[42,-0.023],[45,-0.023],[48,-0.049],[49,-0.159],[50,-0.102],[52,-0.032],[53,-0.058],[55,-0.067],[57,-0.041],[60,-0.049],[63,-0.023],[66,-0.014],[69,-0.005],[72,-0.005],[76,0.021],[79,0.012],[83,0.007],[86,0.018],[89,0.021],[93,0.004],[96,-0.005],[100,0.007]];
const fGFDL: Pt[] = [[1,-0.005],[3,-0.023],[5,-0.014],[7,-0.032],[8,-0.032],[11,-0.041],[13,-0.023],[15,-0.032],[18,-0.023],[20,0.03],[21,0.021],[23,-0.005],[24,-0.049],[26,-0.023],[28,-0.032],[31,-0.032],[33,-0.014],[35,-0.032],[37,-0.041],[39,-0.041],[41,-0.049],[44,-0.058],[46,-0.049],[49,-0.085],[51,-0.023],[53,-0.058],[55,-0.129],[57,-0.102],[59,-0.094],[61,-0.076],[63,-0.067],[65,-0.049],[68,-0.049],[70,-0.085],[72,-0.049],[74,-0.076],[76,-0.049],[78,-0.041],[80,-0.041],[82,-0.035],[85,-0.032],[87,-0.041],[90,-0.058],[92,-0.102],[94,-0.111],[96,-0.102],[98,-0.094],[99,-0.032],[100,-0.005],[102,-0.005],[104,-0.032],[106,-0.049],[108,-0.032],[110,-0.049],[112,-0.032],[114,-0.049],[116,-0.041],[117,-0.002],[119,-0.049],[121,-0.041],[123,-0.071],[125,-0.071],[126,-0.053],[128,-0.049],[130,-0.058],[132,-0.049],[134,-0.067],[136,-0.049],[137,-0.071],[139,-0.085],[140,-0.12],[142,-0.102],[143,-0.129],[145,-0.094],[147,-0.081],[148,0.012],[149,-0.032],[151,0.004],[152,-0.032],[153,-0.141],[155,-0.152],[157,-0.111],[158,-0.102],[160,-0.076],[161,-0.111],[163,-0.058],[165,-0.067],[166,0.004],[168,-0.058],[171,-0.085],[173,-0.064],[175,-0.049],[177,-0.032],[179,-0.049],[181,-0.058],[183,-0.076],[184,-0.058],[186,-0.011],[187,-0.053],[189,-0.076],[191,-0.102],[193,-0.129],[195,-0.076],[196,-0.064],[197,0.057],[198,0.021],[200,-0.032]];
const fHad: Pt[] = [[1,-0.005],[3,-0.023],[4,-0.049],[6,-0.099],[7,-0.076],[9,-0.032],[11,-0.049],[13,-0.023],[15,-0.014],[17,-0.005],[19,0.004],[21,0.039],[23,0.03],[24,0.048],[26,0.057],[28,0.03],[30,0.021],[32,0.004],[34,-0.005],[36,0.004],[38,0.012],[40,-0.005],[42,-0.014],[44,0.004],[46,0.004],[49,0.004],[51,0.007],[54,0.004],[57,0.012],[59,0.057],[60,0.012],[63,-0.005],[65,-0.005],[68,-0.014],[70,0.004],[73,-0.005],[76,0.004],[79,-0.005],[82,0.004],[85,0.007],[88,-0.005],[91,0.004],[94,0.007],[97,0.004],[100,0.004]];
const fECHO: Pt[] = [[1,0.021],[2,0.074],[3,0.074],[5,0.071],[6,0.057],[7,0.039],[8,0.074],[9,0.074],[10,0.039],[11,-0.058],[12,-0.014],[14,-0.058],[15,-0.032],[18,-0.014],[20,-0.005],[23,0.004],[26,0.004],[28,-0.014],[31,-0.014],[34,-0.023],[37,-0.032],[39,-0.023],[42,-0.032],[45,-0.023],[48,-0.005],[50,0.021],[52,0.012],[54,-0.023],[57,-0.014],[60,0.012],[63,0.004],[65,0.048],[66,0.004],[67,0.048],[68,0.012],[70,0.03],[72,0.025],[75,0.048],[78,0.035],[80,0.03],[83,0.021],[86,0.007],[89,-0.005],[91,-0.005],[94,0.004],[96,0.012],[97,0.053],[99,0.03],[100,0.048]];
const fMRI: Pt[] = [[1,0],[3,0.018],[5,0.021],[7,0.012],[9,-0.014],[11,0.03],[13,-0.005],[15,-0.014],[18,-0.023],[20,0.004],[22,0.012],[24,0.021],[26,0.012],[28,0.025],[31,0.018],[33,0.039],[35,0.03],[37,0.012],[39,-0.014],[41,-0.058],[42,-0.099],[44,-0.049],[46,-0.023],[48,0.012],[50,0.065],[52,0.057],[54,0.057],[56,0.03],[58,0.021],[60,0.03],[62,-0.014],[64,0.021],[65,-0.005],[67,-0.014],[70,-0.005],[72,-0.014],[75,0.004],[77,-0.005],[79,-0.005],[82,0.012],[84,-0.005],[87,-0.011],[90,0.004],[93,-0.014],[95,-0.032],[96,-0.005],[98,0.012],[99,0.039],[100,-0.041],[101,-0.049],[102,-0.032],[104,0.004],[106,0.012],[108,0.007],[110,0.004],[112,-0.023],[114,-0.032],[115,-0.049],[117,-0.058],[119,-0.134],[121,-0.067],[123,-0.023],[125,-0.023],[126,-0.041],[128,-0.014],[130,0.004],[132,0.007],[133,0.03],[134,0.021],[136,0.004],[138,-0.014],[140,-0.014],[142,0.007],[143,0.018],[145,0.025],[147,0.03],[148,-0.081],[149,-0.023],[150,0.004]];
const fPCM: Pt[] = [[1,0.012],[3,0.025],[5,0.018],[7,0],[9,0.007],[11,0.004],[13,-0.011],[15,0],[17,-0.018],[19,0.007],[21,0.021],[23,0.039],[24,0.012],[26,0.03],[28,0.053],[30,0.012],[32,0.021],[34,0.004],[36,-0.011],[38,-0.032],[39,-0.011],[41,-0.023],[43,0.004],[45,-0.046],[48,-0.014],[50,0.057],[52,0.042],[54,0.012],[55,0.039],[57,-0.005],[58,0.048],[60,-0.023],[62,-0.005],[64,-0.011],[65,-0.049],[67,-0.041],[69,-0.032],[71,-0.058],[73,-0.041],[75,-0.023],[77,-0.046],[79,-0.023],[81,-0.032],[84,-0.049],[86,-0.081],[88,-0.058],[90,-0.023],[92,-0.032],[93,-0.085],[95,-0.124],[97,-0.058],[98,-0.049],[99,-0.076],[100,-0.067],[102,-0.041],[103,-0.076],[105,0.021],[107,-0.023],[109,-0.094],[110,-0.018],[112,-0.071],[114,-0.053],[116,-0.058],[118,-0.081],[120,-0.049],[121,-0.058],[122,0.004],[124,0],[126,-0.032],[127,-0.011],[129,-0.049],[131,-0.041],[133,-0.053],[135,-0.053],[137,-0.049],[139,0.004],[140,-0.049],[142,-0.041],[144,-0.071],[146,-0.076],[148,0.004],[150,0],[152,-0.032],[154,-0.049],[155,-0.005],[156,-0.041],[157,0.007],[159,0.004],[161,-0.041],[162,-0.014],[164,-0.058],[165,-0.014],[167,-0.041],[168,-0.081],[170,-0.085],[172,-0.032],[174,-0.005],[175,-0.023],[176,0.004],[177,-0.032],[179,-0.085],[181,-0.049],[183,-0.099],[185,-0.094],[186,-0.076],[188,-0.014],[190,-0.058],[192,-0.111],[193,-0.147],[194,-0.102],[195,-0.164],[196,-0.129],[197,-0.134],[199,0.057],[200,-0.041]];

const FONT = '"Liberation Sans", Arial, Helvetica, sans-serif';
const PAD = 64;
const PLOT_H = 112;

interface PanelDef {
  title: string;
  top: number;
  domain: [number, number];
  leftTicks: number[];
  rightTicks: number[];
  leftLabels: number[];
  rightLabels: number[];
  digits: number;
  labelSize: number;
  xTicks: 'top' | 'bottom' | null;
  series: Pt[][];
}

const panels: PanelDef[] = [
  { title: 'a) Control Run: (No Subsampling)', top: 101, domain: [282, 294], leftTicks: [284, 286, 288, 290, 292], rightTicks: [282, 284, 286, 288, 290, 292, 294], leftLabels: [284, 288, 292], rightLabels: [], digits: 0, labelSize: 22, xTicks: 'top', series: [aBCM, aCCCma, aCSIRO, aGFDL, aHad, aECHO, aMRI, aPCM] },
  { title: 'b) Control Run: (Subsampled)', top: 239.5, domain: [282, 294], leftTicks: [284, 286, 288, 290, 292], rightTicks: [282, 284, 286, 288, 290, 292, 294], leftLabels: [], rightLabels: [284, 288, 292], digits: 0, labelSize: 22, xTicks: null, series: [bBCM, bCCCma, bCSIRO, bGFDL, bHad, bECHO, bMRI, bPCM] },
  { title: 'c) Control Run: (Subsampled - Unsubsampled)', top: 377, domain: [0.94, 4.13], leftTicks: [1, 2, 3, 4], rightTicks: [1, 2, 3, 4], leftLabels: [1, 2, 3, 4], rightLabels: [], digits: 1, labelSize: 22, xTicks: null, series: [cBCM, cCCCma, cCSIRO, cGFDL, cHad, cECHO, cMRI, cPCM] },
  { title: 'd) Control Run Anomaly: (No Subsampling)', top: 517, domain: [-0.5, 0.5], leftTicks: [-0.4, -0.2, 0, 0.2, 0.4], rightTicks: [-0.4, -0.2, 0, 0.2, 0.4], leftLabels: [], rightLabels: [-0.4, -0.2, 0, 0.2, 0.4], digits: 1, labelSize: 21, xTicks: null, series: [dBCM, dCCCma, dCSIRO, dGFDL, dHad, dECHO, dMRI, dPCM] },
  { title: 'e) Control Run Anomaly: (Subsampled)', top: 655.5, domain: [-0.5, 0.5], leftTicks: [-0.4, -0.2, 0, 0.2, 0.4], rightTicks: [-0.4, -0.2, 0, 0.2, 0.4], leftLabels: [-0.4, -0.2, 0, 0.2, 0.4], rightLabels: [], digits: 1, labelSize: 21, xTicks: null, series: [eBCM, eCCCma, eCSIRO, eGFDL, eHad, eECHO, eMRI, ePCM] },
  { title: 'f) Control Run Anomaly: (Subsampled - Unsubsampled)', top: 794, domain: [-0.3, 0.3], leftTicks: [-0.2, -0.1, 0, 0.1, 0.2], rightTicks: [-0.2, -0.1, 0, 0.1, 0.2], leftLabels: [], rightLabels: [-0.2, -0.1, 0, 0.1, 0.2], digits: 1, labelSize: 19, xTicks: 'bottom', series: [fBCM, fCCCma, fCSIRO, fGFDL, fHad, fECHO, fMRI, fPCM] },
];

const axisLine = { stroke: '#000', strokeWidth: 3 };
const tickLine = { stroke: '#000', strokeWidth: 3 };

function makeYTick(labels: number[], digits: number, side: 'left' | 'right', size: number) {
  return (props: any) => {
    const { x, y, payload } = props;
    if (!labels.includes(payload.value)) return <g />;
    return (
      <text x={x} y={y + size * 0.36} textAnchor={side === 'left' ? 'end' : 'middle'} fontSize={size} fill="#000" fontFamily={FONT}>
        {Number(payload.value).toFixed(digits)}
      </text>
    );
  };
}

function makeXTick(side: 'top' | 'bottom') {
  return (props: any) => {
    const { x, y, payload } = props;
    return (
      <text x={x} y={side === 'top' ? y : y + 16} textAnchor="middle" fontSize={22} fill="#000" fontFamily={FONT}>
        {payload.value}
      </text>
    );
  };
}

function Panel({ p }: { p: PanelDef }) {
  return (
    <div style={{ position: 'absolute', left: 0, top: p.top - PAD }}>
      <LineChart width={1281} height={PLOT_H + 2 * PAD} margin={{ top: 0, right: 0, bottom: 0, left: 0 }}>
        <XAxis
          xAxisId="b" type="number" dataKey="year" orientation="bottom" height={PAD}
          domain={[-0.5, 200.5]} allowDataOverflow ticks={yearTicks}
          axisLine={axisLine}
          tickLine={p.xTicks === 'bottom' ? tickLine : false}
          tickSize={11} tickMargin={12}
          tick={p.xTicks === 'bottom' ? makeXTick('bottom') : false}
        />
        <XAxis
          xAxisId="t" type="number" dataKey="year" orientation="top" height={PAD}
          domain={[-0.5, 200.5]} allowDataOverflow ticks={yearTicks}
          axisLine={axisLine}
          tickLine={p.xTicks === 'top' ? tickLine : false}
          tickSize={11} tickMargin={12}
          tick={p.xTicks === 'top' ? makeXTick('top') : false}
        />
        <YAxis
          yAxisId="l" type="number" orientation="left" width={73}
          domain={p.domain} allowDataOverflow ticks={p.leftTicks} interval={0}
          axisLine={axisLine} tickLine={tickLine} tickSize={11} tickMargin={11}
          tick={makeYTick(p.leftLabels, p.digits, 'left', p.labelSize)}
        />
        <YAxis
          yAxisId="r" type="number" orientation="right" width={230}
          domain={p.domain} allowDataOverflow ticks={p.rightTicks} interval={0}
          axisLine={axisLine} tickLine={tickLine} tickSize={11} tickMargin={28}
          tick={makeYTick(p.rightLabels, p.digits, 'right', p.labelSize)}
        />
        {p.series.map((s, i) => (
          <Line
            key={models[i]}
            xAxisId="b"
            yAxisId="l"
            data={s.map(([year, v]) => ({ year, v }))}
            dataKey="v"
            stroke={colors[i]}
            strokeWidth={3}
            dot={false}
            activeDot={false}
            isAnimationActive={false}
          />
        ))}
      </LineChart>
      <div style={{ position: 'absolute', left: 85, top: PAD, fontSize: 22.5, lineHeight: '25px', fontFamily: FONT, color: '#000', whiteSpace: 'nowrap' }}>
        {p.title}
      </div>
    </div>
  );
}

export default function App() {
  return (
    <div style={{ position: 'absolute', left: 0, top: 0, width: 1281, height: 1000, background: '#fff', fontFamily: FONT, overflow: 'hidden' }}>
      {panels.map((p) => (
        <Panel key={p.title} p={p} />
      ))}
      <div style={{ position: 'absolute', left: 363, width: 400, top: 8, textAlign: 'center', fontSize: 28, lineHeight: '32px' }}>
        GLOBAL OCEAN (0-300m)
      </div>
      <div style={{ position: 'absolute', left: 462, width: 200, top: 974, textAlign: 'center', fontSize: 28, lineHeight: '24px' }}>
        Year
      </div>
      {models.map((m, i) => (
        <div key={m} style={{ position: 'absolute', left: 1088, top: 46 + i * 24.9 - 10, height: 20, display: 'flex', alignItems: 'center' }}>
          <div style={{ width: 42, height: 3, background: colors[i] }} />
          <div style={{ marginLeft: 18, fontSize: 16.5, whiteSpace: 'nowrap' }}>{m}</div>
        </div>
      ))}
    </div>
  );
}
